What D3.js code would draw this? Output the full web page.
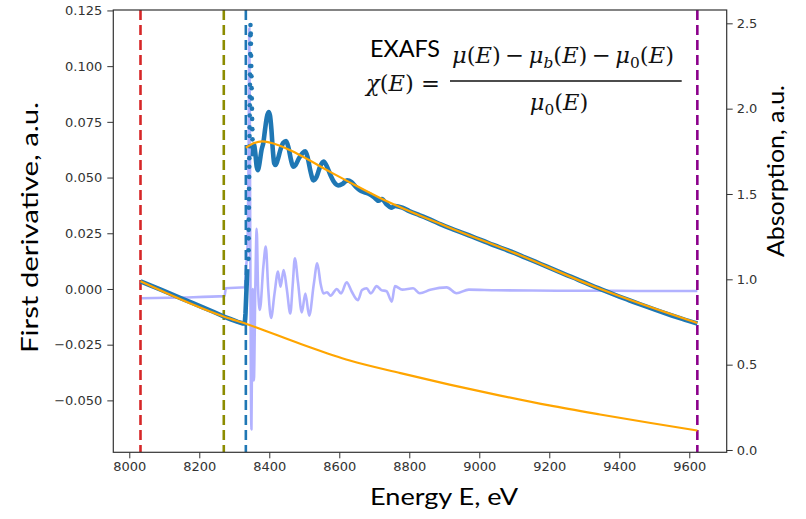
<!DOCTYPE html>
<html><head><meta charset="utf-8">
<script src="https://cdn.jsdelivr.net/npm/d3@7"></script>
<style>body{margin:0;background:#fff}</style>
</head><body>
<svg id="c" width="806" height="519"></svg>
<script>
// ---------------- DATA ----------------
const xTicks = [8000, 8200, 8400, 8600, 8800, 9000, 9200, 9400, 9600];
const leftTicks = [-0.050, -0.025, 0.000, 0.025, 0.050, 0.075, 0.100, 0.125];
const leftTickLabels = ["\u22120.050", "\u22120.025", "0.000", "0.025", "0.050", "0.075", "0.100", "0.125"];
const rightTicks = [0.0, 0.5, 1.0, 1.5, 2.0, 2.5];
const rightTickLabels = ["0.0", "0.5", "1.0", "1.5", "2.0", "2.5"];

// vertical marker energies (eV)
const markerE = [8032, 8270, 8333, 9623];

// absorption mu(E), right axis – pre-edge part
const preE  = [8032, 8060, 8090, 8120, 8150, 8180, 8210, 8240, 8270, 8290, 8310, 8325, 8330, 8332, 8334, 8336, 8337];
const preMu = [0.988, 0.964, 0.939, 0.913, 0.887, 0.862, 0.836, 0.810, 0.782, 0.766, 0.751, 0.741, 0.741, 0.80, 0.90, 1.00, 1.06];

// absorption at the edge (individual points)
const edgeE  = [8340.5, 8340.75, 8341, 8341.25, 8341.5, 8341.75, 8342, 8342.25, 8342.5, 8342.75, 8343, 8343.25,
                8343.5, 8343.75, 8344, 8344.25, 8344.5, 8344.75, 8345, 8345.25, 8345.5, 8345.75, 8346, 8346.25,
                8347, 8347.5, 8348, 8348.5, 8349, 8349.5, 8350, 8350.5, 8351, 8351.5, 8352, 8352.5];
const edgeMu = [1.12, 1.17, 1.24, 1.29, 1.35, 1.42, 1.47, 1.53, 1.60, 1.66, 1.71, 1.78,
                1.84, 1.89, 1.96, 2.02, 2.07, 2.14, 2.20, 2.25, 2.32, 2.38, 2.43, 2.49,
                2.44, 2.38, 2.31, 2.25, 2.19, 2.12, 2.06, 2.00, 1.94, 1.88, 1.82, 1.77];

// absorption – post-edge part
const postE  = [8353, 8356, 8360, 8364, 8368, 8372, 8378, 8383, 8388, 8393, 8398, 8402, 8406, 8410, 8414, 8418,
                8424, 8432, 8440, 8448, 8455, 8462, 8468, 8475, 8485, 8495, 8503, 8510, 8518, 8526, 8535, 8545,
                8555, 8565, 8575, 8585, 8597, 8610, 8622, 8635, 8648, 8660, 8672, 8685, 8700, 8712, 8722, 8735,
                8748, 8760, 8780, 8800, 8830, 8860, 8890, 8920, 8950, 8980, 9010, 9040, 9070, 9100, 9130, 9160,
                9190, 9220, 9250, 9280, 9310, 9340, 9370, 9400, 9430, 9460, 9490, 9520, 9550, 9580, 9623];
const postMu = [1.72, 1.79, 1.74, 1.66, 1.64, 1.68, 1.76, 1.80, 1.88, 1.95, 1.98, 1.96, 1.88, 1.76, 1.68, 1.67,
                1.70, 1.76, 1.80, 1.81, 1.77, 1.70, 1.66, 1.67, 1.71, 1.74, 1.75, 1.71, 1.63, 1.58, 1.60, 1.66,
                1.69, 1.66, 1.61, 1.57, 1.55, 1.56, 1.58, 1.57, 1.54, 1.52, 1.51, 1.50, 1.48, 1.46, 1.47, 1.44,
                1.42, 1.43, 1.42, 1.40, 1.375, 1.35, 1.322, 1.297, 1.274, 1.250, 1.226, 1.201, 1.178, 1.155, 1.129, 1.103,
                1.077, 1.051, 1.025, 1.000, 0.973, 0.948, 0.923, 0.899, 0.876, 0.853, 0.831, 0.809, 0.788, 0.768, 0.741];

// pre-edge background fit (right axis)
const bgE  = [8032, 8273, 8335, 8490, 8630, 8775, 8915, 9060, 9200, 9345, 9490, 9623];
const bgMu = [0.988, 0.779, 0.738, 0.621, 0.524, 0.450, 0.383, 0.319, 0.261, 0.208, 0.158, 0.114];

// post-edge atomic background fit (right axis)
const atE  = [8333, 8355, 8380, 8430, 8480, 8575, 8630, 8715, 8910, 9100, 9335, 9623];
const atMu = [1.771, 1.797, 1.808, 1.783, 1.736, 1.628, 1.568, 1.478, 1.307, 1.155, 0.952, 0.744];

// first derivative (left axis)
const dE = [8032, 8150, 8272, 8276, 8330, 8334, 8338, 8341, 8343, 8345, 8347, 8349, 8351, 8353, 8356, 8360,
            8364, 8368, 8373, 8383, 8390, 8397, 8405, 8415, 8425, 8432, 8441, 8450, 8460, 8467, 8473, 8482,
            8493, 8503, 8514, 8527, 8537, 8547, 8555, 8565, 8575, 8593, 8605, 8621, 8635, 8653, 8665, 8678,
            8690, 8707, 8720, 8735, 8750, 8759, 8780, 8811, 8830, 8860, 8907, 8935, 8970, 9050, 9150, 9250,
            9350, 9450, 9550, 9623];
const dVal = [-0.0042, -0.0038, -0.0032, 0.0003, 0.0008, 0.010, 0.020, 0.060, 0.117, 0.050, -0.030, -0.063, -0.020, 0.000, -0.041, 0.000,
              0.027, 0.000, -0.0094, 0.010, 0.019, 0.000, -0.013, -0.002, 0.0078, 0.001, 0.0085, 0.000, -0.011, 0.002, 0.0138, 0.003,
              -0.0105, -0.002, -0.012, 0.002, 0.0115, 0.002, -0.002, -0.0015, -0.003, 0.000, -0.002, 0.003, -0.001, -0.005, -0.0005, 0.0003,
              -0.002, 0.0013, -0.0005, -0.001, -0.0057, 0.0013, -0.0003, 0.0003, -0.0019, -0.0004, 0.0007, -0.0019, -0.0003, -0.0006, -0.0007, -0.0008,
              -0.0008, -0.0009, -0.0009, -0.0009];

// ---------------- CHART ----------------
const svg = d3.select('#c');
const L = 113.3, R = 726.7, T = 10, B = 452.3;
const x  = d3.scaleLinear().domain([7954.3, 9706.9]).range([L, R]);
const yL = d3.scaleLinear().domain([-0.0733, 0.1252]).range([B, T]);
const yR = d3.scaleLinear().domain([-0.0135, 2.578]).range([B, T]);

svg.append('defs').append('clipPath').attr('id', 'clip')
  .append('rect').attr('x', L).attr('y', T).attr('width', R - L).attr('height', B - T);
const plot = svg.append('g').attr('clip-path', 'url(#clip)');

const zip = (a, b) => a.map((v, i) => [v, b[i]]);

// derivative
plot.append('path').datum(zip(dE, dVal))
  .attr('d', d3.line().x(d => x(d[0])).y(d => yL(d[1])).curve(d3.curveMonotoneX))
  .attr('fill', 'none').attr('stroke', '#0000ff').attr('stroke-opacity', 0.3)
  .attr('stroke-width', 2.6).attr('stroke-linejoin', 'round');

// vertical dashed markers
const markerColors = ['#d62728', '#8c8c00', '#1f77b4', '#8b008b'];
plot.selectAll('line.vm').data(markerE).join('line').attr('class', 'vm')
  .attr('x1', d => x(d)).attr('x2', d => x(d)).attr('y1', T).attr('y2', B)
  .attr('stroke', (d, i) => markerColors[i]).attr('stroke-width', 2.6)
  .attr('stroke-dasharray', '10,5');

// absorption
const lineR = d3.line().x(d => x(d[0])).y(d => yR(d[1]));
const smoothR = d3.line().x(d => x(d[0])).y(d => yR(d[1])).curve(d3.curveMonotoneX);
const blue = '#1f77b4';
plot.append('path').datum(zip(preE, preMu)).attr('d', lineR)
  .attr('fill', 'none').attr('stroke', blue).attr('stroke-width', 4.6).attr('stroke-linejoin', 'round');
plot.append('path').datum(zip(postE, postMu)).attr('d', smoothR)
  .attr('fill', 'none').attr('stroke', blue).attr('stroke-width', 4.6).attr('stroke-linejoin', 'round');
plot.selectAll('circle.ed').data(zip(edgeE, edgeMu)).join('circle').attr('class', 'ed')
  .attr('cx', d => x(d[0])).attr('cy', d => yR(d[1])).attr('r', 2.3).attr('fill', blue);

// fits
plot.append('path').datum(zip(bgE, bgMu)).attr('d', smoothR)
  .attr('fill', 'none').attr('stroke', '#ffa500').attr('stroke-width', 2.2);
plot.append('path').datum(zip(atE, atMu)).attr('d', smoothR)
  .attr('fill', 'none').attr('stroke', '#ffa500').attr('stroke-width', 2.2);

// axes
const tickFont = '"DejaVu Sans", sans-serif';
function styleAxis(g) {
  g.select('.domain').remove();
  g.selectAll('.tick line').attr('stroke', '#333').attr('stroke-width', 1);
  g.selectAll('.tick text').attr('fill', '#333').style('font-family', tickFont).style('font-size', '13px');
}
svg.append('g').attr('transform', `translate(0,${B})`)
  .call(d3.axisBottom(x).tickValues(xTicks).tickFormat(d3.format('d')).tickSize(6).tickPadding(3).tickSizeOuter(0))
  .call(styleAxis);
svg.append('g').attr('transform', `translate(${L},0)`)
  .call(d3.axisLeft(yL).tickValues(leftTicks).tickFormat((d, i) => leftTickLabels[i]).tickSize(6).tickPadding(5).tickSizeOuter(0))
  .call(styleAxis);
svg.append('g').attr('transform', `translate(${R},0)`)
  .call(d3.axisRight(yR).tickValues(rightTicks).tickFormat((d, i) => rightTickLabels[i]).tickSize(6).tickPadding(4).tickSizeOuter(0))
  .call(styleAxis);

svg.append('rect').attr('x', L).attr('y', T).attr('width', R - L).attr('height', B - T)
  .attr('fill', 'none').attr('stroke', '#333').attr('stroke-width', 1.2);

// labels
const labFont = 'Lato, "Open Sans", sans-serif';
svg.append('text').attr('transform', 'translate(37.5,227.5) rotate(-90)')
  .attr('text-anchor', 'middle').style('font-family', labFont).style('font-size', '23px')
  .attr('textLength', 251).attr('lengthAdjust', 'spacingAndGlyphs')
  .text('First derivative, a.u.');
svg.append('text').attr('transform', 'translate(784,171) rotate(-90)')
  .attr('text-anchor', 'middle').style('font-family', labFont).style('font-size', '23px')
  .attr('textLength', 172).attr('lengthAdjust', 'spacingAndGlyphs')
  .text('Absorption, a.u.');
svg.append('text').attr('x', 444).attr('y', 505)
  .attr('text-anchor', 'middle').style('font-family', labFont).style('font-size', '23px')
  .attr('textLength', 148).attr('lengthAdjust', 'spacingAndGlyphs')
  .text('Energy E, eV');
svg.append('text').attr('x', 370).attr('y', 56.5)
  .style('font-family', labFont).style('font-size', '24px')
  .attr('textLength', 70).attr('lengthAdjust', 'spacingAndGlyphs')
  .text('EXAFS');

// formula
const mathFont = '"DejaVu Serif", serif';
function mathText(parts, xPos, yPos, fs, anchor) {
  const t = svg.append('text').attr('x', xPos).attr('y', yPos)
    .style('font-family', mathFont).style('font-size', fs + 'px').attr('fill', '#111');
  parts.forEach(p => {
    const s = t.append('tspan').text(p.t);
    if (p.i) s.style('font-style', 'italic');
    if (p.sub) s.style('font-size', (fs * 0.68) + 'px').attr('dy', fs * 0.24);
    if (p.after) s.attr('dy', -fs * 0.24);
  });
  const w = t.node().getComputedTextLength();
  if (anchor === 'middle') t.attr('x', xPos - w / 2);
  return {t, w};
}
const P = (t, i) => ({t, i});
const numParts = [P('μ', true), P('(', false), P('E', true), P(')\u2009−\u2009', false),
          P('μ', true), {t: 'b', i: true, sub: true}, {t: '(', after: true}, P('E', true), P(')\u2009−\u2009', false),
          P('μ', true), {t: '0', sub: true}, {t: '(', after: true}, P('E', true), P(')', false)];
const probe = mathText(numParts, 0, -100, 20, 'start');
const FS = 20 * 222 / probe.w;
probe.t.remove();
mathText(numParts, 563, 62.7, FS, 'middle');
mathText([P('μ', true), {t: '0', sub: true}, {t: '(', after: true}, P('E', true), P(')', false)], 559, 110, FS, 'middle');
mathText([P('χ', true), P('(', false), P('E', true), P(') = ', false)], 366, 91, FS, 'start');
svg.append('line').attr('x1', 450).attr('x2', 681.7).attr('y1', 81).attr('y2', 81)
  .attr('stroke', '#111').attr('stroke-width', 1.3);
</script>
</body></html>
